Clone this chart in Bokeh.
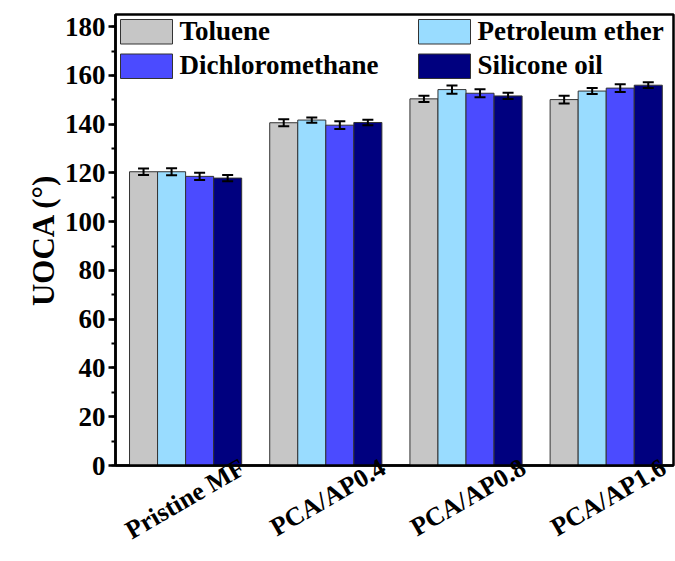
from math import pi

from bokeh.embed import file_html
from bokeh.models import (BoxAnnotation, ColumnDataSource, FixedTicker, Label, LinearAxis,
                          Range1d, SingleIntervalTicker, TeeHead, Whisker)
from bokeh.plotting import figure
from bokeh.resources import INLINE
from bokeh.transform import dodge

# Membrane samples along the x axis and their numeric positions
categories = ["Pristine MF", "PCA/AP0.4", "PCA/AP0.8", "PCA/AP1.6"]
positions = [1, 2, 3, 4]

# Oil probes (one bar per probe in every group)
solvents = ["Toluene", "Petroleum ether", "Dichloromethane", "Silicone oil"]

# Underwater oil contact angle (degrees) and its error
toluene = [120.5, 140.6, 150.4, 150.1]
petroleum_ether = [120.5, 141.7, 154.2, 153.6]
dichloromethane = [118.6, 139.6, 152.7, 154.8]
silicone_oil = [117.9, 140.7, 151.6, 156.0]

toluene_err = [1.3, 1.4, 1.3, 1.6]
petroleum_ether_err = [1.4, 1.1, 1.7, 1.2]
dichloromethane_err = [1.5, 1.6, 1.6, 1.6]
silicone_oil_err = [1.3, 1.1, 1.3, 1.2]

# y-axis tick step and upper limit
y_major_step = 20
y_max = 185

series = [toluene, petroleum_ether, dichloromethane, silicone_oil]
errors = [toluene_err, petroleum_ether_err, dichloromethane_err, silicone_oil_err]
colors = ["#c6c6c6", "#99dcff", "#4b4bff", "#00007f"]
edge_color = "#333333"
offsets = [-0.3, -0.1, 0.1, 0.3]
bar_width = 0.2

FONT = "Liberation Serif"
X_START, X_END = 0.5, 4.48
# rotated names are drawn from their right end, so their axis is slid
# sideways to put the middle of each name under its group
NAME_SHIFT = 0.41

data = {"x": positions}
for k, (vals, errs) in enumerate(zip(series, errors)):
    data[f"s{k}"] = vals
    data[f"s{k}_lo"] = [v - e for v, e in zip(vals, errs)]
    data[f"s{k}_hi"] = [v + e for v, e in zip(vals, errs)]
src = ColumnDataSource(data)

p = figure(
    width=675, height=561,
    output_backend="svg", toolbar_location=None,
    x_range=Range1d(X_START, X_END), y_range=Range1d(0, y_max),
    min_border_left=115, min_border_right=2,
    min_border_top=14, min_border_bottom=96,
    background_fill_color="white", border_fill_color="white",
)
p.grid.visible = False
p.outline_line_color = "black"
p.outline_line_width = 2.5
p.outline_line_alpha = 1.0

for k in range(4):
    p.vbar(
        x=dodge("x", offsets[k], range=p.x_range), top=f"s{k}", bottom=0,
        width=bar_width, source=src,
        fill_color=colors[k], line_color=edge_color, line_width=1,
    )
    p.add_layout(Whisker(
        base=dodge("x", offsets[k], range=p.x_range),
        lower=f"s{k}_lo", upper=f"s{k}_hi", source=src,
        line_color="black", line_width=2, level="overlay",
        lower_head=TeeHead(size=11, line_width=2, line_color="black"),
        upper_head=TeeHead(size=11, line_width=2, line_color="black"),
    ))

# y axis
yax = p.yaxis[0]
yax.ticker = SingleIntervalTicker(interval=y_major_step, num_minor_ticks=2)
yax.axis_label = "UOCA (°)"
yax.axis_label_text_font = FONT
yax.axis_label_text_font_style = "bold"
yax.axis_label_text_font_size = "31px"
yax.axis_label_text_color = "black"
yax.axis_label_standoff = 1
yax.major_label_text_font = FONT
yax.major_label_text_font_style = "bold"
yax.major_label_text_font_size = "27px"
yax.major_label_text_color = "black"
yax.major_label_standoff = 3
yax.axis_line_width = 2.5
yax.major_tick_line_width = 2.5
yax.minor_tick_line_width = 2
yax.major_tick_in = 0
yax.major_tick_out = 7
yax.minor_tick_in = 0
yax.minor_tick_out = 4

# x axis: rotated sample names, no tick marks
p.xaxis.visible = False
p.extra_x_ranges = {"names": Range1d(X_START - NAME_SHIFT, X_END - NAME_SHIFT)}
xax = LinearAxis(x_range_name="names")
xax.ticker = FixedTicker(ticks=positions)
xax.major_label_overrides = {pos: name for pos, name in zip(positions, categories)}
xax.major_label_orientation = pi / 6
xax.major_label_text_font = FONT
xax.major_label_text_font_style = "bold"
xax.major_label_text_font_size = "26px"
xax.major_label_text_color = "black"
xax.major_label_standoff = 0
xax.major_tick_line_color = None
xax.major_tick_in = 0
xax.major_tick_out = 0
xax.minor_tick_line_color = None
xax.axis_line_width = 2.5
p.add_layout(xax, "below")

# two-column key in the top of the frame (offsets in px from the frame's
# lower-left corner): swatch box followed by the solvent name
key_cols = [5, 303]          # swatch left edge per column
key_rows = [446, 411.5]      # swatch top edge per row
swatch_w, swatch_h = 52, 24.5
text_gap = 7
text_lift = 13.5             # baseline height above the swatch's lower edge
for k, name in enumerate(solvents):
    col, row = k % 2, k // 2
    left, top = key_cols[col], key_rows[row]
    p.add_layout(BoxAnnotation(
        left=left, right=left + swatch_w, top=top, bottom=top - swatch_h,
        left_units="screen", right_units="screen",
        top_units="screen", bottom_units="screen",
        fill_color=colors[k], fill_alpha=1.0,
        line_color=edge_color, line_width=1, line_alpha=1.0,
        level="overlay",
    ))
    p.add_layout(Label(
        x=left + swatch_w + text_gap, y=top - swatch_h + text_lift,
        x_units="screen", y_units="screen", text=name,
        text_align="left", text_baseline="alphabetic",
        text_font=FONT, text_font_style="bold", text_font_size="27px",
        text_color="black",
    ))

open("out.html", "w").write(file_html(p, INLINE))
